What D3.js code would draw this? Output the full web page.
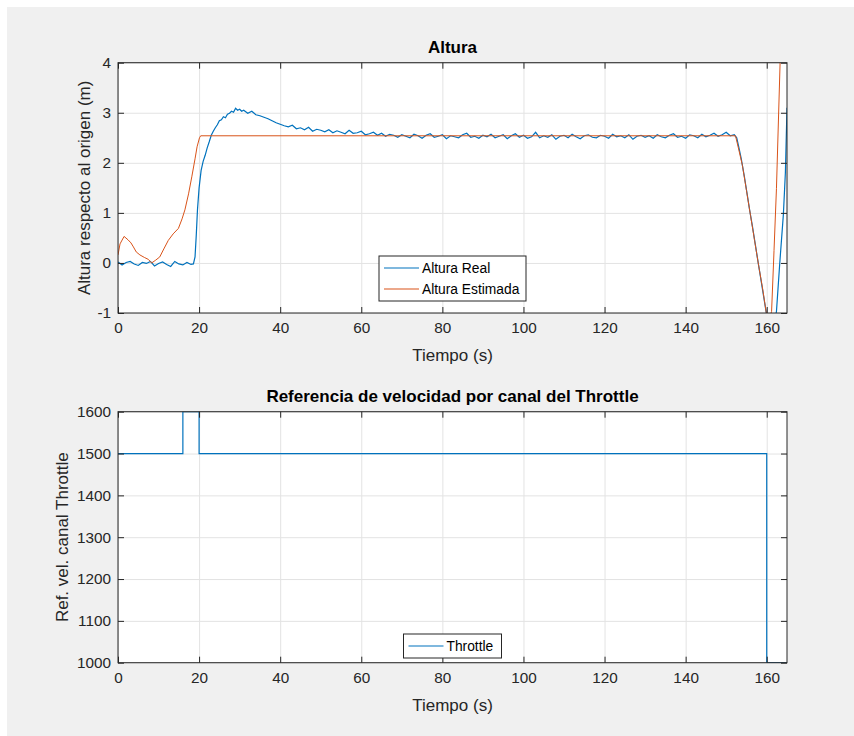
<!DOCTYPE html>
<html>
<head>
<meta charset="utf-8">
<script src="https://cdn.jsdelivr.net/npm/d3@7"></script>
<style>
  body { margin: 0; background: #fff; }
  #fig { position: absolute; left: 7px; top: 7px; width: 847px; height: 729px; background: #f0f0f0; }
  svg { position: absolute; left: 0; top: 0; }
  text { font-family: "Liberation Sans", Arial, sans-serif; fill: #262626; }
  .tick text { font-size: 15.3px; }
  .title { font-size: 17px; font-weight: bold; fill: #000; }
  .label { font-size: 17px; }
  .legend text { font-size: 13.8px; fill: #000; }
</style>
</head>
<body>
<div id="fig"></div>
<script>
// --- data ---
const xTicks = [0, 20, 40, 60, 80, 100, 120, 140, 160];
const altTicks = [-1, 0, 1, 2, 3, 4];
const thrTicks = [1000, 1100, 1200, 1300, 1400, 1500, 1600];

// Altura Real (measured, noisy)
const realT = [0,1,2,3,4,5,6,7,8,9,10,11,12,13,14,15,16,17,18,
  18.6,19.0,19.3,19.6,20.0,20.5,21.0,21.5,22,22.5,23,23.5,24,24.5,25,25.5,26,26.5,27,27.5,28,28.5,29,29.5,30,30.5,31,
  32,33,34,35,36,37,38,39,40,41,42,43,44,45,46,47,48,49,50,51,52,53,54,55,56,57,58,59,60,61,62,63,64,65,66,67,68,69,
  70,71,72,73,74,75,76,77,78,79,80,81,82,83,84,85,86,87,88,89,90,91,92,93,94,95,96,97,98,99,
  100,101,102,103,104,105,106,107,108,109,110,111,112,113,114,115,116,117,118,119,120,121,122,123,124,125,126,127,128,129,
  130,131,132,133,134,135,136,137,138,139,140,141,142,143,144,145,146,147,148,149,150,151,152,
  152.6,153.1,153.7,154.5,155.2,155.8,156.5,157.2,158.0,158.8,159.5,160.1,160.8,161.6,162.4,163.2,164.1,164.6,165];
const realH = [0.02,-0.04,0.01,0.03,-0.02,-0.05,0.01,-0.01,0.03,-0.06,-0.01,0.02,-0.03,-0.07,0.03,-0.02,-0.04,0.01,-0.03,
  -0.02,0.12,0.55,1.06,1.50,1.85,2.03,2.15,2.30,2.42,2.55,2.63,2.70,2.76,2.84,2.86,2.92,2.90,2.97,2.99,3.03,3.01,3.09,3.05,3.07,3.03,3.05,
  2.99,3.03,2.96,2.94,2.91,2.88,2.84,2.80,2.77,2.74,2.72,2.75,2.68,2.70,2.66,2.71,2.63,2.67,2.65,2.62,2.66,2.60,2.64,2.61,2.58,2.65,2.59,2.60,2.63,2.56,2.58,2.61,2.55,2.59,2.53,2.57,2.55,2.51,
  2.56,2.53,2.50,2.57,2.54,2.49,2.55,2.58,2.51,2.53,2.56,2.48,2.54,2.52,2.50,2.56,2.59,2.51,2.53,2.49,2.55,2.52,2.57,2.50,2.53,2.56,2.48,2.54,2.58,2.51,
  2.55,2.49,2.52,2.61,2.50,2.54,2.51,2.56,2.47,2.53,2.55,2.50,2.57,2.52,2.48,2.54,2.56,2.51,2.50,2.55,2.53,2.49,2.57,2.52,2.54,2.50,2.56,2.47,2.53,2.55,
  2.51,2.54,2.49,2.56,2.52,2.50,2.55,2.58,2.51,2.53,2.49,2.56,2.54,2.50,2.57,2.52,2.55,2.59,2.53,2.56,2.61,2.54,2.56,
  2.50,2.32,2.09,1.72,1.36,1.05,0.72,0.36,-0.05,-0.45,-0.80,-1.10,-1.35,-1.30,-0.97,-0.02,0.96,1.80,3.10];

// Altura Estimada
const estT = [0,0.5,1.5,2.5,3.2,3.8,4.5,5.4,6.5,7.5,8.3,9.2,10.3,11.3,12.4,13.6,14.9,15.8,16.5,17.4,18.2,19.0,19.5,20.1,20.4,
  152.3,153.0,154.0,155.0,156.0,157.0,158.0,159.0,159.9,160.5,161.2,161.8,162.4,163.3,164.0,165];
const estH = [0.16,0.38,0.53,0.46,0.40,0.32,0.22,0.16,0.11,0.07,0.00,0.05,0.12,0.28,0.45,0.58,0.69,0.88,1.06,1.38,1.72,2.08,2.32,2.50,2.54,
  2.54,2.30,1.95,1.45,0.95,0.45,-0.05,-0.52,-1.00,-1.15,-0.97,0.25,1.49,4.00,5.60,7.40];

// Throttle reference (step)
const thrT = [0, 16, 20, 160, 165];
const thrV = [1500, 1600, 1500, 1000, 1000];

const blue = "#0072bd", orange = "#d95319";
const axisColor = "#262626", gridColor = "#e3e3e3";

const svg = d3.select("body").append("svg").attr("width", 854).attr("height", 736);

const L = 118, R = 787;
const x = d3.scaleLinear().domain([0, 165]).range([L, R]);
const plain = d => String(d);   // MATLAB style, hyphen minus

function styleAxis(s, color) {
  s.select(".domain").remove();
  s.selectAll(".tick line").attr("stroke", color);
}

function panel(top, bottom, yDomain, yTicks, title, ylab, ylabX) {
  const y = d3.scaleLinear().domain(yDomain).range([bottom, top]);
  const h = bottom - top, w = R - L;
  const g = svg.append("g");
  g.append("rect").attr("x", L).attr("y", top).attr("width", w).attr("height", h).attr("fill", "#fff");

  // grid
  g.append("g").attr("transform", `translate(0,${bottom})`)
    .call(d3.axisBottom(x).tickValues(xTicks).tickSize(-h).tickFormat(""))
    .call(s => styleAxis(s, gridColor));
  g.append("g").attr("transform", `translate(${L},0)`)
    .call(d3.axisLeft(y).tickValues(yTicks).tickSize(-w).tickFormat(""))
    .call(s => styleAxis(s, gridColor));

  const clipId = "clip" + Math.round(top);
  g.append("clipPath").attr("id", clipId).append("rect")
    .attr("x", L).attr("y", top).attr("width", w).attr("height", h);
  const plot = g.append("g").attr("clip-path", `url(#${clipId})`);

  // axes with inward ticks on all four sides
  const tk = 6;
  const axes = g.append("g");
  axes.append("g").attr("transform", `translate(0,${bottom})`)
    .call(d3.axisBottom(x).tickValues(xTicks).tickSize(-tk).tickPadding(9).tickFormat(plain))
    .call(s => styleAxis(s, axisColor));
  axes.append("g").attr("transform", `translate(0,${top})`)
    .call(d3.axisTop(x).tickValues(xTicks).tickSize(-tk).tickFormat(""))
    .call(s => styleAxis(s, axisColor));
  axes.append("g").attr("transform", `translate(${L},0)`)
    .call(d3.axisLeft(y).tickValues(yTicks).tickSize(-tk).tickPadding(7).tickFormat(plain))
    .call(s => styleAxis(s, axisColor));
  axes.append("g").attr("transform", `translate(${R},0)`)
    .call(d3.axisRight(y).tickValues(yTicks).tickSize(-tk).tickFormat(""))
    .call(s => styleAxis(s, axisColor));

  g.append("text").attr("class", "title").attr("x", (L + R) / 2).attr("y", top - 10)
    .attr("text-anchor", "middle").text(title);
  g.append("text").attr("class", "label").attr("x", (L + R) / 2).attr("y", bottom + 48)
    .attr("text-anchor", "middle").text("Tiempo (s)");
  g.append("text").attr("class", "label")
    .attr("transform", `translate(${ylabX},${(top + bottom) / 2}) rotate(-90)`)
    .attr("text-anchor", "middle").text(ylab);

  return { y, plot, g, top, h, w };
}

function frame(p) {
  p.g.append("rect").attr("x", L).attr("y", p.top).attr("width", p.w).attr("height", p.h)
    .attr("fill", "none").attr("stroke", axisColor);
}

// --- top panel: Altura ---
const p1 = panel(62.7, 313, [-1, 4], altTicks, "Altura", "Altura respecto al origen (m)", 90);
p1.plot.append("path")
  .attr("d", d3.line().x((d, i) => x(realT[i])).y(d => p1.y(d))(realH))
  .attr("fill", "none").attr("stroke", blue).attr("stroke-width", 1.2);
p1.plot.append("path")
  .attr("d", d3.line().x((d, i) => x(estT[i])).y(d => p1.y(d))(estH))
  .attr("fill", "none").attr("stroke", orange).attr("stroke-width", 1);
frame(p1);

// --- bottom panel: Throttle ---
const p2 = panel(411.7, 662.7, [1000, 1600], thrTicks,
  "Referencia de velocidad por canal del Throttle", "Ref. vel. canal Throttle", 68);
p2.plot.append("path")
  .attr("d", d3.line().curve(d3.curveStepAfter).x((d, i) => x(thrT[i])).y(d => p2.y(d))(thrV))
  .attr("fill", "none").attr("stroke", blue).attr("stroke-width", 1.2);
frame(p2);

// --- legends (south, centred) ---
function legend(g, items, boxTop, boxW) {
  const rowH = 21, cx = (L + R) / 2;
  const lg = g.append("g").attr("class", "legend");
  const bx = cx - boxW / 2;
  lg.append("rect").attr("x", bx).attr("y", boxTop).attr("width", boxW)
    .attr("height", items.length * rowH + 3).attr("fill", "#fff").attr("stroke", axisColor);
  items.forEach((it, i) => {
    const yy = boxTop + 12 + i * rowH;
    lg.append("line").attr("x1", bx + 5).attr("x2", bx + 40).attr("y1", yy).attr("y2", yy)
      .attr("stroke", it.color).attr("stroke-width", 1.2);
    lg.append("text").attr("x", bx + 43).attr("y", yy + 5).text(it.name);
  });
}
legend(p1.g, [{ name: "Altura Real", color: blue }, { name: "Altura Estimada", color: orange }], 256, 147);
legend(p2.g, [{ name: "Throttle", color: blue }], 634, 98);
</script>
</body>
</html>
